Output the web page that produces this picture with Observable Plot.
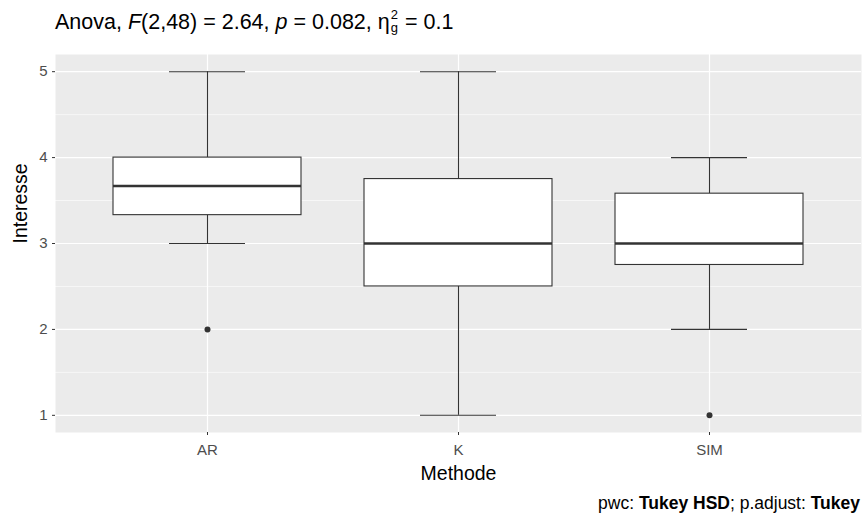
<!DOCTYPE html>
<html>
<head>
<meta charset="utf-8">
<script src="https://cdn.jsdelivr.net/npm/d3@7"></script>
<script src="https://cdn.jsdelivr.net/npm/@observablehq/plot@0.6"></script>
<style>
  body { margin: 0; background: #fff; font-family: "Liberation Sans", Arial, sans-serif; }
  #wrap { width: 863px; position: relative; }
  #title { height: 48px; position: relative; }
  #title .t { position: absolute; left: 55px; top: 10px; font-size: 21.5px; line-height: 24px; color: #000; white-space: nowrap; }
  .ss { display: inline-block; vertical-align: middle; font-size: 13px; position: relative; top: -2px; text-align: center; margin: 0 1px; }
  .ss span { display: block; line-height: 13px; height: 13px; }
  #chart svg { display: block; }
  #caption { height: 27px; position: relative; }
  #caption .c { position: absolute; right: 3px; top: 5px; font-size: 17.5px; line-height: 20px; color: #000; white-space: nowrap; }
</style>
</head>
<body>
<div id="wrap">
  <div id="title"><span class="t">Anova, <i>F</i>(2,48) = 2.64, <i>p</i> = 0.082, η<span class="ss"><span>2</span><span>g</span></span> = 0.1</span></div>
  <div id="chart"></div>
  <div id="caption"><span class="c">pwc: <b>Tukey HSD</b>; p.adjust: <b>Tukey</b></span></div>
</div>
<script>
const methods = ["AR", "K", "SIM"];
const lower = [3, 1, 2];
const q1 = [3.33, 2.5, 2.75];
const median = [3.67, 3, 3];
const q3 = [4, 3.75, 3.58];
const upper = [5, 5, 4];
const outlierMethod = ["AR", "SIM"];
const outlierValue = [2, 1];
const yTicks = [1, 2, 3, 4, 5];
const yMinor = [1.5, 2.5, 3.5, 4.5];

const boxes = methods.map((m, i) => ({method: m, lower: lower[i], q1: q1[i], median: median[i], q3: q3[i], upper: upper[i]}));
const outliers = outlierMethod.map((m, i) => ({method: m, value: outlierValue[i]}));

const plot = Plot.plot({
  width: 863,
  height: 440,
  marginLeft: 55,
  marginRight: 2,
  marginTop: 6,
  marginBottom: 56,
  style: {fontFamily: "'Liberation Sans', Arial, sans-serif", fontSize: "15px", background: "transparent"},
  x: {type: "band", domain: methods, paddingInner: 0.25, paddingOuter: 0.225},
  y: {domain: [0.8, 5.2]},
  marks: [
    Plot.frame({fill: "#EBEBEB", stroke: null}),
    Plot.ruleY(yMinor, {stroke: "#ffffff", strokeWidth: 0.6}),
    Plot.ruleY(yTicks, {stroke: "#ffffff", strokeWidth: 1.2}),
    Plot.ruleX(methods, {x: d => d, stroke: "#ffffff", strokeWidth: 1.2}),
    Plot.ruleX(boxes, {x: "method", y1: "q3", y2: "upper", stroke: "#333333", strokeWidth: 1.1}),
    Plot.ruleX(boxes, {x: "method", y1: "lower", y2: "q1", stroke: "#333333", strokeWidth: 1.1}),
    Plot.tickY(boxes, {x: "method", y: "upper", stroke: "#333333", strokeWidth: 1.1, insetLeft: 56, insetRight: 56}),
    Plot.tickY(boxes, {x: "method", y: "lower", stroke: "#333333", strokeWidth: 1.1, insetLeft: 56, insetRight: 56}),
    Plot.barY(boxes, {x: "method", y1: "q1", y2: "q3", fill: "#ffffff", stroke: "#333333", strokeWidth: 1.1}),
    Plot.tickY(boxes, {x: "method", y: "median", stroke: "#333333", strokeWidth: 2.4}),
    Plot.dot(outliers, {x: "method", y: "value", r: 3, fill: "#333333", stroke: null}),
    Plot.axisY({ticks: yTicks, tickFormat: d3.format("d"), tickSize: 3, tickPadding: 5, fontSize: 15, fill: "#4D4D4D", stroke: "#333333", label: null}),
    Plot.axisX({tickSize: 3, tickPadding: 9, fontSize: 15, fill: "#4D4D4D", stroke: "#333333", label: null}),
    Plot.text(["Methode"], {frameAnchor: "bottom", dy: 41, text: d => d, fontSize: 19.5, fill: "#000000", lineAnchor: "middle"}),
    Plot.text(["Interesse"], {frameAnchor: "left", dx: -35, text: d => d, fontSize: 19.5, fill: "#000000", rotate: -90, lineAnchor: "middle"})
  ]
});
document.getElementById("chart").appendChild(plot);
</script>
</body>
</html>
